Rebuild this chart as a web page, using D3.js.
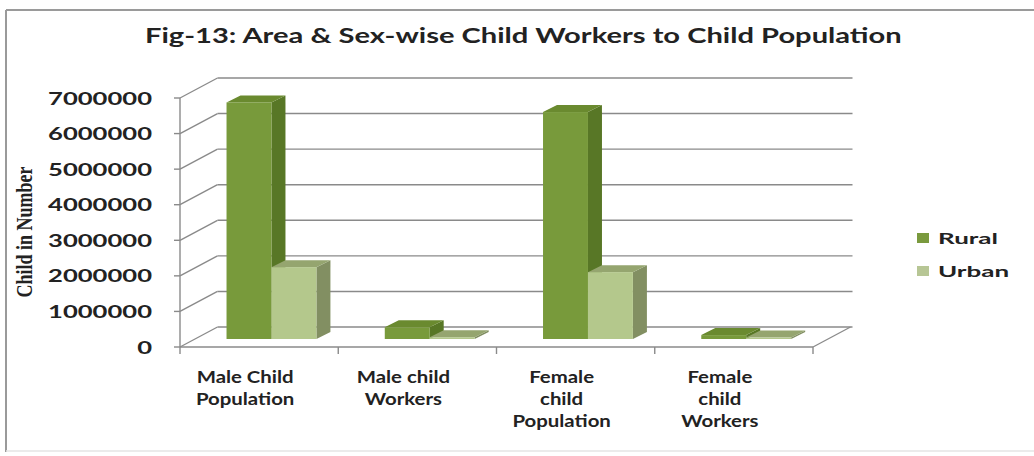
<!DOCTYPE html>
<html>
<head>
<meta charset="utf-8">
<script src="https://cdn.jsdelivr.net/npm/d3@7"></script>
<style>
  html, body { margin: 0; padding: 0; background: #ffffff; }
  svg { display: block; }
</style>
</head>
<body>
<svg id="chart" width="1034" height="456"></svg>
<script>
// ---------------- data ----------------
const titleText = "Fig-13: Area & Sex-wise Child Workers to Child Population";
const yAxisTitle = "Child in Number";
const categories = ["Male Child Population", "Male child Workers", "Female child Population", "Female child Workers"];
const categoryLines = [["Male Child", "Population"], ["Male child", "Workers"], ["Female", "child", "Population"], ["Female", "child", "Workers"]];
const seriesNames = ["Rural", "Urban"];
const ruralValues = [6650000, 330000, 6380000, 110000];
const urbanValues = [2020000, 50000, 1880000, 40000];
const yTickValues = [0, 1000000, 2000000, 3000000, 4000000, 5000000, 6000000, 7000000];
const yTickLabels = ["0", "1000000", "2000000", "3000000", "4000000", "5000000", "6000000", "7000000"];

// ---------------- setup ----------------
const svg = d3.select("#chart");
const FONT = "Lato, 'Open Sans', sans-serif";
const TEXT = "#222222";
const GRID = "#8a8a8a";

const x = d3.scaleBand().domain(categories).range([180, 813]).paddingInner(0).paddingOuter(0);
const y = d3.scaleLinear().domain([0, 7000000]).range([347, 98]);
const depth = { dx: 37.5, dy: -20 };
const barDepth = { dx: 14, dy: -7 };
const barShift = -8;

const colors = {
  Rural: { front: "#789a3b", side: "#587726", top: "#6a8a2f" },
  Urban: { front: "#b4c88c", side: "#828f62", top: "#95a56f" }
};

// frame
svg.append("line").attr("x1", 6).attr("y1", 10).attr("x2", 1034).attr("y2", 10)
  .attr("stroke", "#9a9a9a").attr("stroke-width", 2);
svg.append("line").attr("x1", 6).attr("y1", 10).attr("x2", 6).attr("y2", 452)
  .attr("stroke", "#9a9a9a").attr("stroke-width", 2);
svg.append("line").attr("x1", 6).attr("y1", 451).attr("x2", 1034).attr("y2", 451)
  .attr("stroke", "#e4e4e4").attr("stroke-width", 1.5);

// helper to scale text horizontally to a target width
function stretchTo(sel, sample, target) {
  const tmp = svg.append("text").attr("font-family", sel.font).attr("font-size", sel.size)
    .attr("font-weight", "bold").text(sample);
  const w = tmp.node().getComputedTextLength();
  tmp.remove();
  return target / w;
}

// title
const titleScale = stretchTo({ font: FONT, size: 20 }, titleText, 757);
svg.append("text")
  .attr("transform", `translate(145,43) scale(${titleScale},1)`)
  .attr("font-family", FONT).attr("font-size", 20).attr("font-weight", "bold")
  .attr("fill", TEXT).text(titleText);

// ---------------- walls & gridlines ----------------
const grid = svg.append("g");
const x0 = x.range()[0], x1 = x.range()[1];
yTickValues.forEach(v => {
  const yy = y(v);
  // side wall diagonal
  grid.append("line").attr("x1", x0).attr("y1", yy).attr("x2", x0 + depth.dx).attr("y2", yy + depth.dy)
    .attr("stroke", GRID).attr("stroke-width", 1.4);
  // back wall line
  grid.append("line").attr("x1", x0 + depth.dx).attr("y1", yy + depth.dy).attr("x2", x1 + depth.dx + 2).attr("y2", yy + depth.dy)
    .attr("stroke", GRID).attr("stroke-width", 1.4);
  // small tick left
  grid.append("line").attr("x1", x0 - 6).attr("y1", yy).attr("x2", x0).attr("y2", yy)
    .attr("stroke", GRID).attr("stroke-width", 1.4);
});
// front vertical axis line
grid.append("line").attr("x1", x0).attr("y1", y(7000000)).attr("x2", x0).attr("y2", y(0))
  .attr("stroke", GRID).attr("stroke-width", 1.4);
// floor front edge and right edge
grid.append("line").attr("x1", x0).attr("y1", y(0)).attr("x2", x1).attr("y2", y(0))
  .attr("stroke", GRID).attr("stroke-width", 1.4);
grid.append("line").attr("x1", x1).attr("y1", y(0)).attr("x2", x1 + depth.dx).attr("y2", y(0) + depth.dy)
  .attr("stroke", GRID).attr("stroke-width", 1.4);
// category ticks
const boundaries = categories.map(c => x(c)).concat([x1]);
boundaries.forEach(bx => {
  grid.append("line").attr("x1", bx).attr("y1", y(0)).attr("x2", bx).attr("y2", y(0) + 7)
    .attr("stroke", GRID).attr("stroke-width", 1.4);
});

// y tick labels
const yLabScale = stretchTo({ font: FONT, size: 17 }, "7000000", 104);
svg.append("g").selectAll("text").data(yTickValues).join("text")
  .attr("transform", (d) => `translate(152,${y(d) + 6.5}) scale(${yLabScale},1)`)
  .attr("text-anchor", "end")
  .attr("font-family", FONT).attr("font-size", 17).attr("font-weight", "bold")
  .attr("fill", TEXT)
  .text((d, i) => yTickLabels[i]);

// y axis title
svg.append("text")
  .attr("transform", "translate(32,232) scale(1.25,1) rotate(-90)")
  .attr("text-anchor", "middle")
  .attr("font-family", "'Liberation Serif', 'Times New Roman', serif")
  .attr("font-size", 18).attr("font-weight", "bold").attr("fill", TEXT)
  .text(yAxisTitle);

// ---------------- bars ----------------
const bw = x.bandwidth();
const barW = bw * 0.284;
const barOff = bw * 0.294;
const barData = [];
categories.forEach((c, ci) => {
  [ruralValues, urbanValues].forEach((arr, si) => {
    barData.push({ cat: c, series: seriesNames[si], si, value: arr[ci] });
  });
});
const bars = svg.append("g");
barData.forEach(d => {
  const fx = x(d.cat) + barOff + d.si * barW;
  const base = y(0) + barShift;
  const top = y(d.value) + barShift;
  const col = colors[d.series];
  const g = bars.append("g");
  // side
  g.append("polygon")
    .attr("points", [[fx + barW, top], [fx + barW + barDepth.dx, top + barDepth.dy],
      [fx + barW + barDepth.dx, base + barDepth.dy], [fx + barW, base]].map(p => p.join(",")).join(" "))
    .attr("fill", col.side);
  // top
  g.append("polygon")
    .attr("points", [[fx, top], [fx + barDepth.dx, top + barDepth.dy],
      [fx + barW + barDepth.dx, top + barDepth.dy], [fx + barW, top]].map(p => p.join(",")).join(" "))
    .attr("fill", col.top);
  // front
  g.append("rect").attr("x", fx).attr("y", top).attr("width", barW).attr("height", Math.max(0, base - top))
    .attr("fill", col.front);
});

// ---------------- category labels ----------------
const xLabScale = stretchTo({ font: FONT, size: 17 }, "Male Child", 97);
const xl = svg.append("g");
categories.forEach((c, ci) => {
  const cx = x(c) + bw / 2 - 14;
  categoryLines[ci].forEach((line, li) => {
    xl.append("text")
      .attr("transform", `translate(${cx},${383 + li * 22}) scale(${xLabScale},1)`)
      .attr("text-anchor", "middle")
      .attr("font-family", FONT).attr("font-size", 17).attr("font-weight", "bold")
      .attr("fill", TEXT).text(line);
  });
});

// ---------------- legend ----------------
const legScale = stretchTo({ font: FONT, size: 16 }, "Rural", 60);
const leg = svg.append("g");
seriesNames.forEach((s, i) => {
  const ly = 244 + i * 33;
  leg.append("rect").attr("x", 917).attr("y", ly - 11).attr("width", 12).attr("height", 10)
    .attr("fill", s === "Rural" ? "#7a9a3e" : "#b7c695");
  leg.append("text")
    .attr("transform", `translate(938,${ly}) scale(${legScale},1)`)
    .attr("font-family", FONT).attr("font-size", 16).attr("font-weight", "bold")
    .attr("fill", TEXT).text(s);
});
</script>
</body>
</html>
